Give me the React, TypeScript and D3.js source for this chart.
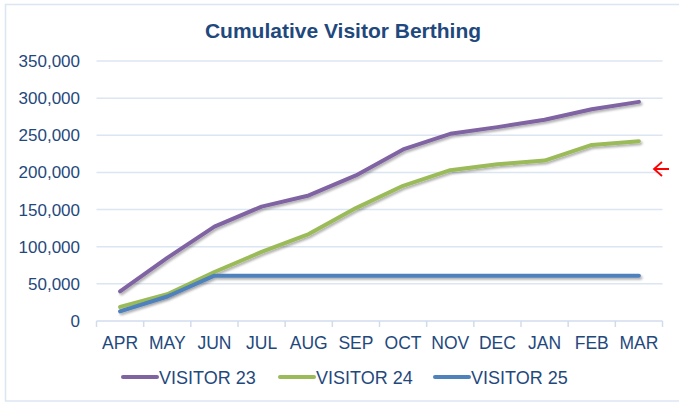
import React, { useRef, useEffect } from "react";
import * as d3 from "d3";

const months = ["APR", "MAY", "JUN", "JUL", "AUG", "SEP", "OCT", "NOV", "DEC", "JAN", "FEB", "MAR"];
const visitor23 = [40000, 85000, 127000, 154000, 169000, 196000, 231000, 252000, 261000, 271000, 285000, 295000];
const visitor24 = [19000, 36000, 66000, 93000, 117000, 152000, 182000, 203000, 211000, 216000, 237000, 242000];
const visitor25 = [13000, 33000, 61000, 61000, 61000, 61000, 61000, 61000, 61000, 61000, 61000, 61000];
const seriesNames = ["VISITOR 23", "VISITOR 24", "VISITOR 25"];
const yTicks = [0, 50000, 100000, 150000, 200000, 250000, 300000, 350000];

const colors = ["#8064A2", "#9BBB59", "#4F81BD"];
const textColor = "#1F497D";
const font = "Arial, 'Liberation Sans', sans-serif";

const App = () => {
  const svgRef = useRef<SVGSVGElement>(null);

  useEffect(() => {
    const width = 679, height = 402;
    const svg = d3.select(svgRef.current).attr("width", width).attr("height", height);
    svg.selectAll("*").remove();

    const defs = svg.append("defs");
    const f = defs.append("filter").attr("id", "shadow").attr("x", "-10%").attr("y", "-10%").attr("width", "120%").attr("height", "130%");
    f.append("feDropShadow").attr("dx", 1.5).attr("dy", 2).attr("stdDeviation", 1.2)
      .attr("flood-color", "#000").attr("flood-opacity", 0.3);

    // outer frame
    svg.append("rect").attr("x", 5.5).attr("y", 4.5).attr("width", 690).attr("height", 396.5)
      .attr("fill", "#fff").attr("stroke", "#DCE6F2").attr("stroke-width", 1.5);

    const x = d3.scaleBand().domain(months).range([96.5, 662.5]);
    const y = d3.scaleLinear().domain([0, 350000]).range([321, 61]);

    // gridlines
    svg.append("g").selectAll("line")
      .data(yTicks.filter(d => d > 0))
      .join("line")
      .attr("x1", 96.5).attr("x2", 662.5)
      .attr("y1", d => y(d)).attr("y2", d => y(d))
      .attr("stroke", "#DCE6F2").attr("stroke-width", 1.5);

    // y labels
    svg.append("g").selectAll("text")
      .data(yTicks)
      .join("text")
      .attr("x", 80).attr("y", d => y(d) + 6)
      .attr("text-anchor", "end")
      .attr("font-family", font).attr("font-size", 17).attr("fill", textColor)
      .text(d => d3.format(",")(d));

    // x axis
    svg.append("line").attr("x1", 96.5).attr("x2", 662.5).attr("y1", 321).attr("y2", 321)
      .attr("stroke", "#D0DCEC").attr("stroke-width", 1.5);
    const boundaries = months.map(m => x(m) as number).concat([662.5]);
    svg.append("g").selectAll("line")
      .data(boundaries)
      .join("line")
      .attr("x1", d => d).attr("x2", d => d).attr("y1", 321).attr("y2", 327)
      .attr("stroke", "#D0DCEC").attr("stroke-width", 1.5);
    svg.append("g").selectAll("text")
      .data(months)
      .join("text")
      .attr("x", d => (x(d) as number) + x.bandwidth() / 2)
      .attr("y", 349)
      .attr("text-anchor", "middle")
      .attr("font-family", font).attr("font-size", 17.5).attr("fill", textColor)
      .text(d => d);

    // lines
    const line = d3.line<number>()
      .x((_, i) => (x(months[i]) as number) + x.bandwidth() / 2)
      .y(d => y(d));
    [visitor23, visitor24, visitor25].forEach((s, i) => {
      svg.append("path").datum(s)
        .attr("d", line)
        .attr("fill", "none")
        .attr("stroke", colors[i]).attr("stroke-width", 4)
        .attr("stroke-linejoin", "round").attr("stroke-linecap", "round")
        .attr("filter", "url(#shadow)");
    });

    // title
    svg.append("text").attr("x", 343).attr("y", 38)
      .attr("text-anchor", "middle")
      .attr("font-family", font).attr("font-size", 21).attr("font-weight", "bold")
      .attr("fill", textColor)
      .text("Cumulative Visitor Berthing");

    // legend
    const legendX = [123, 280, 435];
    const lg = svg.append("g").selectAll("g").data(seriesNames).join("g");
    lg.append("line")
      .attr("x1", (_, i) => legendX[i]).attr("x2", (_, i) => legendX[i] + 34)
      .attr("y1", 377).attr("y2", 377)
      .attr("stroke", (_, i) => colors[i]).attr("stroke-width", 4).attr("stroke-linecap", "round");
    lg.append("text")
      .attr("x", (_, i) => legendX[i] + 36).attr("y", 383.5)
      .attr("font-family", font).attr("font-size", 18).attr("fill", textColor)
      .text(d => d);

    // red arrow marker
    svg.append("path")
      .attr("d", "M669,169 L654,169 M662,162 L654,169 L662,176")
      .attr("fill", "none").attr("stroke", "#FF0000").attr("stroke-width", 1.8);
  }, []);

  return <svg ref={svgRef} style={{ position: "absolute", left: 0, top: 0 }}></svg>;
};

export default App;
